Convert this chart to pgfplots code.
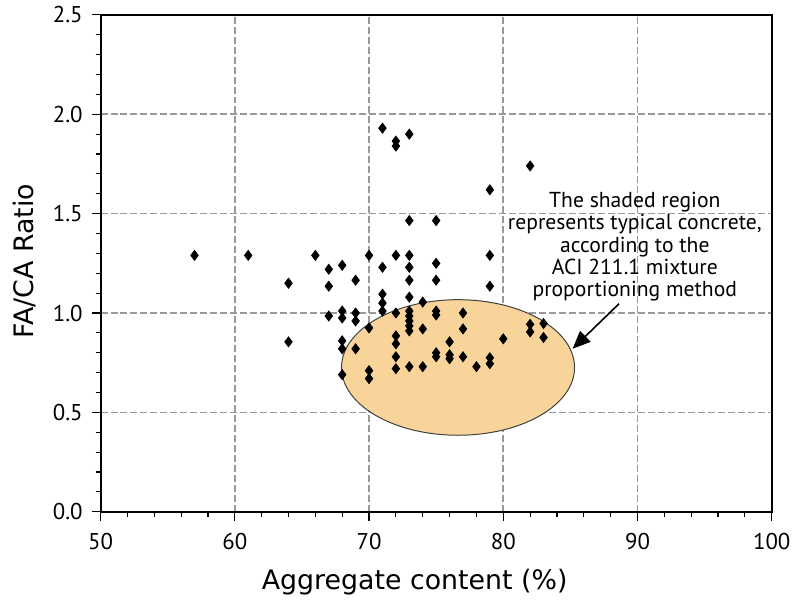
\documentclass[border=0pt]{standalone}
\usepackage{pgfplots}
\pgfplotsset{compat=1.18}
\usepackage{fontspec}
\setmainfont{PT Sans}
\newfontfamily\labfont{DejaVu Sans}
\usetikzlibrary{arrows.meta}
\definecolor{shade}{HTML}{F9D49A}
\definecolor{gridgray}{HTML}{999999}
\begin{document}
\begin{tikzpicture}
\begin{axis}[
  set layers,
  at={(0,0)}, anchor=south west,
  scale only axis, width=337bp, height=249.5bp,
  xmin=50, xmax=100, ymin=0, ymax=2.5,
  xtick={50,60,...,100}, ytick={0,0.5,...,2.5},
  minor x tick num=4, minor y tick num=4,
  tick align=outside, xtick pos=left, ytick pos=left,
  major tick length=4.5bp, minor tick length=2.5bp,
  tick style={black, line width=0.6bp},
  axis line style={black, line width=1bp},
  xmajorgrids, ymajorgrids,
  major grid style={gridgray, line width=0.85bp, dash pattern=on 3.5bp off 1.5bp},
  /pgf/number format/assume math mode=true,
  yticklabel style={xshift=-1bp, /pgf/number format/.cd, fixed, fixed zerofill, precision=1},
  ticklabel style={font=\fontsize{11.5}{12}\selectfont},
  xticklabel style={yshift=-3bp},
  xlabel={Aggregate content (\%)}, ylabel={FA/CA Ratio},
  every axis x label/.style={at={(axis description cs:0.468,-0.156)}, anchor=base, font=\labfont\fontsize{13.5}{15}\selectfont},
  every axis y label/.style={at={(axis description cs:-0.1,0.504)}, anchor=base, rotate=90, font=\labfont\fontsize{13.5}{15}\selectfont},
  clip=false,
]
\draw[on layer=axis background, fill=shade, draw=black!75, line width=0.5bp] (axis cs:76.63,0.726) ellipse [x radius=8.68, y radius=0.341];
\addplot[only marks, mark=diamond*, mark size=2.5bp, color=black] table {
x y
57 1.29
61 1.29
64 1.15
64 0.855
66 1.29
67 1.22
67 1.135
67 0.985
68 1.24
68 1.01
68 0.975
68 0.86
68 0.82
68 0.69
69 1.165
69 1.00
69 0.96
69 0.82
70 1.29
70 0.925
70 0.71
70 0.67
71 1.93
71 1.23
71 1.095
71 1.05
71 1.01
72 1.865
72 1.84
72 1.29
72 1.00
72 0.885
72 0.845
72 0.78
72 0.72
73 1.90
73 1.465
73 1.29
73 1.23
73 1.165
73 1.08
73 1.01
73 0.985
73 0.96
73 0.935
73 0.91
73 0.73
74 1.055
74 0.92
74 0.73
75 1.465
75 1.25
75 1.165
75 1.01
75 0.99
75 0.80
75 0.78
76 0.855
76 0.79
76 0.77
77 1.00
77 0.92
77 0.78
78 0.73
79 1.62
79 1.29
79 1.135
79 0.775
79 0.745
80 0.87
82 1.74
82 0.943
82 0.905
83 0.947
83 0.877
};
\draw[-{Triangle[length=9bp,width=7.5bp]}, line width=0.8bp, black] (axis cs:88.63,1.047) -- (axis cs:85.16,0.82);
\node[align=center, font=\fontsize{10.9}{11.25}\selectfont, anchor=north, inner sep=0pt] at (axis cs:89.8,1.61) {The shaded region\\represents typical concrete,\\according to the\\ACI 211.1 mixture\\proportioning method};
\end{axis}
\useasboundingbox (-50.5bp,-41.5bp) rectangle (348bp,256.5bp);
\end{tikzpicture}
\end{document}
